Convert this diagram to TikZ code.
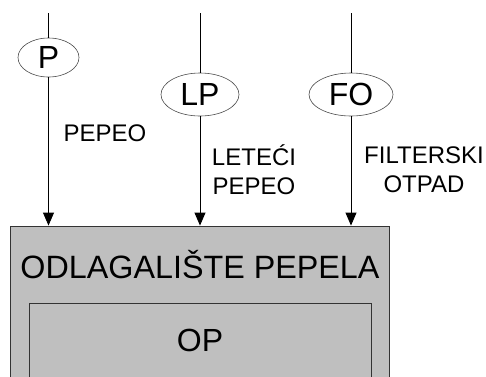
\documentclass[tikz,border=0pt]{standalone}
\usepackage{fontspec}
\setmainfont{Liberation Sans}
\usetikzlibrary{arrows.meta,shapes.geometric}
\begin{document}
\begin{tikzpicture}[x=1pt,y=-1pt,
  flow/.style={line width=0.9pt,-{Triangle[width=11pt,length=13pt]}},
  feed/.style={line width=0.9pt},
  src/.style={ellipse,draw=black!70,line width=0.6pt,inner sep=0pt,font=\fontsize{32}{32}\selectfont},
  lbl/.style={align=center,font=\fontsize{24}{29}\selectfont},
  bigbox/.style={draw=black!80,line width=0.9pt,fill=black!25,inner sep=0pt}]
\useasboundingbox (0,0) rectangle (486,376);
\clip (0,0) rectangle (486,376);
\fill[white] (0,0) rectangle (486,376);
% boxes
\node[bigbox,minimum width=379pt,minimum height=180pt] (box) at (199.5,316) {};
\node[bigbox,minimum width=342pt,minimum height=110pt] (inner) at (200,358) {};
\node[font=\fontsize{32.3}{32}\selectfont] (title) at (200,265) {ODLAGALIŠTE PEPELA};
\node[font=\fontsize{32}{32}\selectfont] (op) at (200,340) {OP};
% sources
\node[src,minimum width=61pt,minimum height=39pt] (P) at (48.5,57.5) {P};
\node[src,minimum width=78pt,minimum height=43pt] (LP) at (200,94.5) {LP};
\node[src,minimum width=84pt,minimum height=43pt] (FO) at (351,94.5) {FO};
\coordinate (tP) at (48.5,13);
\coordinate (tLP) at (200,13);
\coordinate (tFO) at (351,13);
\draw[feed] (tP) -- (P);
\draw[feed] (tLP) -- (LP);
\draw[feed] (tFO) -- (FO);
\draw[flow] (P) -- (P |- box.north);
\draw[flow] (LP) -- (LP |- box.north);
\draw[flow] (FO) -- (FO |- box.north);
% labels
\node[lbl,anchor=west] (lP) at (60,133.5) {PEPEO};
\node[lbl] (lLP) at (254,170) {LETEĆI\\PEPEO};
\node[lbl] (lFO) at (424,170) {FILTERSKI\\OTPAD};
\end{tikzpicture}
\end{document}
